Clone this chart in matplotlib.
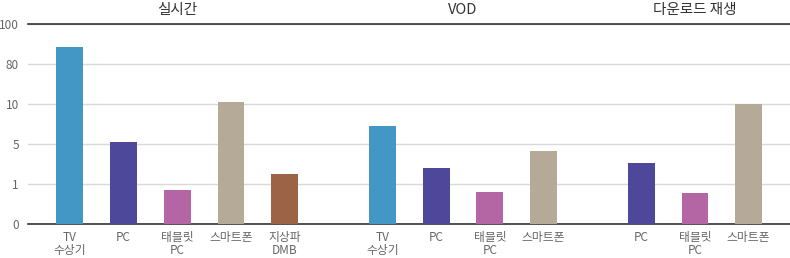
import numpy as np
import matplotlib

matplotlib.use("Agg")
import matplotlib.pyplot as plt
from matplotlib.transforms import blended_transform_factory

plt.rcParams["font.family"] = ["Noto Sans CJK KR", "DejaVu Sans"]

# data (uneven y axis: 0, 1, 5, 10, 80, 100)
groups = ["실시간", "VOD", "다운로드 재생"]
live_labels = ["TV\n수상기", "PC", "태블릿\nPC", "스마트폰", "지상파\nDMB"]
live_values = [88.5, 5.25, 0.85, 14.2, 2.0]
vod_labels = ["TV\n수상기", "PC", "태블릿\nPC", "스마트폰"]
vod_values = [7.2, 2.6, 0.8, 4.3]
dl_labels = ["PC", "태블릿\nPC", "스마트폰"]
dl_values = [3.1, 0.78, 10.1]

y_ticks = [0, 1, 5, 10, 80, 100]

device_colors = {
    "TV": "#4397c4",
    "PC": "#4d4899",
    "태블릿": "#b366a3",
    "스마트폰": "#b5aa97",
    "지상파": "#9c6444",
}


def color_for(label):
    for key, c in device_colors.items():
        if label.startswith(key):
            return c
    return "gray"


# piecewise scale: each tick interval gets equal height
tick_pos = np.arange(len(y_ticks), dtype=float)


def fwd(v):
    return np.interp(v, y_ticks, tick_pos)


def inv(p):
    return np.interp(p, tick_pos, y_ticks)


fig = plt.figure(figsize=(7.9, 2.58), dpi=100)
ax = fig.add_axes([28 / 790, 34 / 258, 762 / 790, 200 / 258])
ax.set_yscale("function", functions=(fwd, inv))

gap = 1.82
all_labels, all_values, all_x, centers = [], [], [], []
start = 0.0
for labels, values in [(live_labels, live_values), (vod_labels, vod_values),
                       (dl_labels, dl_values)]:
    xs = start + np.arange(len(labels))
    all_x.extend(xs)
    all_labels.extend(labels)
    all_values.extend(values)
    centers.append(xs.mean())
    start = xs[-1] + gap

colors = [color_for(l) for l in all_labels]
ax.bar(all_x, all_values, width=0.5, color=colors, zorder=3)

ax.set_xlim(-0.78, all_x[-1] + 0.77)
ax.set_ylim(0, 100)
ax.set_yticks(y_ticks)
ax.set_yticklabels([str(t) for t in y_ticks])
ax.set_xticks(all_x)
ax.set_xticklabels(all_labels, fontsize=8.5, color="#666666", linespacing=1.0)
ax.tick_params(axis="x", length=0, pad=5)
ax.tick_params(axis="y", length=0, pad=6.5, labelsize=8.5, labelcolor="#666666")

ax.grid(axis="y", color="#d9d9d9", linewidth=1, zorder=0)
for side in ["left", "right"]:
    ax.spines[side].set_visible(False)
ax.spines["top"].set_color("#333333")
ax.spines["bottom"].set_color("#333333")
ax.spines["top"].set_linewidth(1.2)
ax.spines["bottom"].set_linewidth(1.2)

trans = blended_transform_factory(ax.transData, ax.transAxes)
for name, cx in zip(groups, centers):
    ax.text(cx, 1.07, name, transform=trans, ha="center", va="center",
            fontsize=10.5, color="#333333")

fig.savefig("out.png", dpi=100)
